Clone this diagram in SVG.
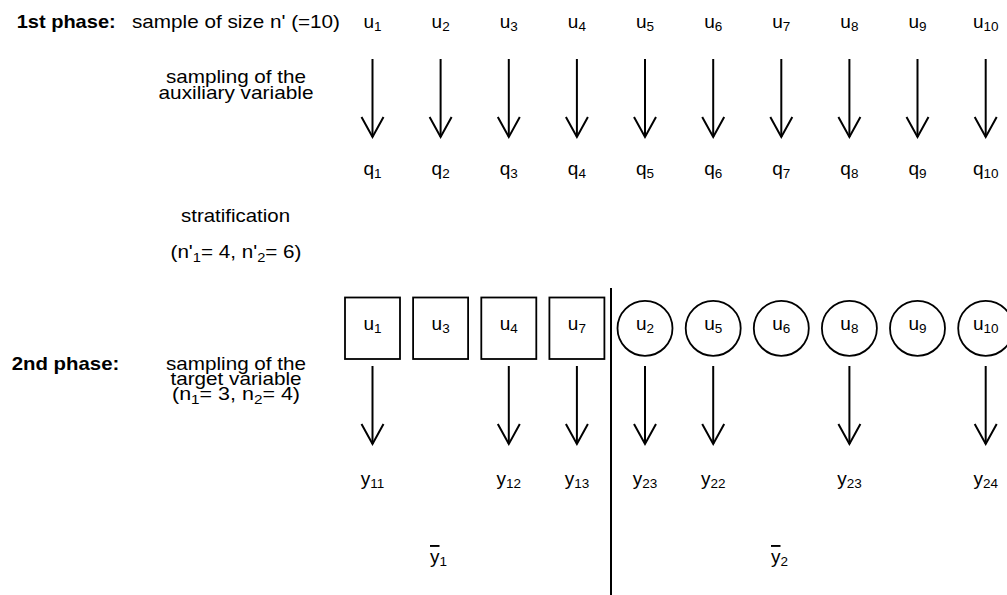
<svg xmlns="http://www.w3.org/2000/svg" width="1007" height="595" viewBox="0 0 1007 595">
<defs>
<style>
text{font-family:"Liberation Sans",Arial,sans-serif;font-size:19px;fill:#000}
.b{font-weight:bold}
.m{text-anchor:middle}
.s{font-size:13.5px}
.ln{stroke:#000;stroke-width:2;fill:none}
.nd{stroke:#000;stroke-width:1.8;fill:#fff}
.ov{text-decoration:overline}
</style>
<marker id="ah" markerUnits="userSpaceOnUse" markerWidth="30" markerHeight="30" viewBox="-25 -15 30 30" refX="0" refY="0" orient="auto" overflow="visible">
<path d="M-20,-11 L0,0 L-20,11" fill="none" stroke="#000" stroke-width="2"/>
</marker>
</defs>
<rect width="1007" height="595" fill="#fff"/>

<g id="labels">
<text class="b" x="16.7" y="27.5" textLength="99" lengthAdjust="spacingAndGlyphs">1st phase:</text>
<text x="132" y="27.5" textLength="208" lengthAdjust="spacingAndGlyphs">sample of size n' (=10)</text>
<text class="m" x="236" y="83" textLength="140" lengthAdjust="spacingAndGlyphs">sampling of the</text>
<text class="m" x="236" y="98.5" textLength="155" lengthAdjust="spacingAndGlyphs">auxiliary variable</text>
<text class="m" x="235.5" y="222" textLength="109" lengthAdjust="spacingAndGlyphs">stratification</text>
<text class="m" x="236" y="258" textLength="131" lengthAdjust="spacingAndGlyphs">(n'<tspan class="s" dy="4">1</tspan><tspan dy="-4">= 4, n'</tspan><tspan class="s" dy="4">2</tspan><tspan dy="-4">= 6)</tspan></text>
<text class="b" x="11.7" y="370" textLength="107.6" lengthAdjust="spacingAndGlyphs">2nd phase:</text>
<text class="m" x="236" y="369.5" textLength="140" lengthAdjust="spacingAndGlyphs">sampling of the</text>
<text class="m" x="236" y="385" textLength="131" lengthAdjust="spacingAndGlyphs">target variable</text>
<text class="m" x="236" y="399.5" textLength="128" lengthAdjust="spacingAndGlyphs">(n<tspan class="s" dy="4">1</tspan><tspan dy="-4">= 3, n</tspan><tspan class="s" dy="4">2</tspan><tspan dy="-4">= 4)</tspan></text>
</g>

<g id="phase1-units">
<text class="m" x="372.5" y="27.5">u<tspan class="s" dy="3">1</tspan></text>
<text class="m" x="440.6" y="27.5">u<tspan class="s" dy="3">2</tspan></text>
<text class="m" x="508.8" y="27.5">u<tspan class="s" dy="3">3</tspan></text>
<text class="m" x="576.9" y="27.5">u<tspan class="s" dy="3">4</tspan></text>
<text class="m" x="645" y="27.5">u<tspan class="s" dy="3">5</tspan></text>
<text class="m" x="713.2" y="27.5">u<tspan class="s" dy="3">6</tspan></text>
<text class="m" x="781.3" y="27.5">u<tspan class="s" dy="3">7</tspan></text>
<text class="m" x="849.4" y="27.5">u<tspan class="s" dy="3">8</tspan></text>
<text class="m" x="917.5" y="27.5">u<tspan class="s" dy="3">9</tspan></text>
<text class="m" x="985.7" y="27.5">u<tspan class="s" dy="3">10</tspan></text>
</g>

<g id="phase1-q">
<text class="m" x="372.5" y="174.5">q<tspan class="s" dy="3">1</tspan></text>
<text class="m" x="440.6" y="174.5">q<tspan class="s" dy="3">2</tspan></text>
<text class="m" x="508.8" y="174.5">q<tspan class="s" dy="3">3</tspan></text>
<text class="m" x="576.9" y="174.5">q<tspan class="s" dy="3">4</tspan></text>
<text class="m" x="645" y="174.5">q<tspan class="s" dy="3">5</tspan></text>
<text class="m" x="713.2" y="174.5">q<tspan class="s" dy="3">6</tspan></text>
<text class="m" x="781.3" y="174.5">q<tspan class="s" dy="3">7</tspan></text>
<text class="m" x="849.4" y="174.5">q<tspan class="s" dy="3">8</tspan></text>
<text class="m" x="917.5" y="174.5">q<tspan class="s" dy="3">9</tspan></text>
<text class="m" x="985.7" y="174.5">q<tspan class="s" dy="3">10</tspan></text>
</g>

<g id="stratum1">
<g id="n-u1"><rect class="nd" x="345" y="297.5" width="55" height="61.5"/><text class="m" x="372.5" y="330">u<tspan class="s" dy="3">1</tspan></text></g>
<g id="n-u3"><rect class="nd" x="413.1" y="297.5" width="55" height="61.5"/><text class="m" x="440.6" y="330">u<tspan class="s" dy="3">3</tspan></text></g>
<g id="n-u4"><rect class="nd" x="481.3" y="297.5" width="55" height="61.5"/><text class="m" x="508.8" y="330">u<tspan class="s" dy="3">4</tspan></text></g>
<g id="n-u7"><rect class="nd" x="549.4" y="297.5" width="55" height="61.5"/><text class="m" x="576.9" y="330">u<tspan class="s" dy="3">7</tspan></text></g>
</g>

<g id="stratum2">
<g id="n-u2"><circle class="nd" cx="645" cy="328.3" r="27.5"/><text class="m" x="645" y="330">u<tspan class="s" dy="3">2</tspan></text></g>
<g id="n-u5"><circle class="nd" cx="713.2" cy="328.3" r="27.5"/><text class="m" x="713.2" y="330">u<tspan class="s" dy="3">5</tspan></text></g>
<g id="n-u6"><circle class="nd" cx="781.3" cy="328.3" r="27.5"/><text class="m" x="781.3" y="330">u<tspan class="s" dy="3">6</tspan></text></g>
<g id="n-u8"><circle class="nd" cx="849.4" cy="328.3" r="27.5"/><text class="m" x="849.4" y="330">u<tspan class="s" dy="3">8</tspan></text></g>
<g id="n-u9"><circle class="nd" cx="917.5" cy="328.3" r="27.5"/><text class="m" x="917.5" y="330">u<tspan class="s" dy="3">9</tspan></text></g>
<g id="n-u10"><circle class="nd" cx="985.7" cy="328.3" r="27.5"/><text class="m" x="985.7" y="330">u<tspan class="s" dy="3">10</tspan></text></g>
</g>

<g id="y-values">
<text class="m" x="372.5" y="485">y<tspan class="s" dy="3">11</tspan></text>
<text class="m" x="508.8" y="485">y<tspan class="s" dy="3">12</tspan></text>
<text class="m" x="576.9" y="485">y<tspan class="s" dy="3">13</tspan></text>
<text class="m" x="645" y="485">y<tspan class="s" dy="3">23</tspan></text>
<text class="m" x="713.2" y="485">y<tspan class="s" dy="3">22</tspan></text>
<text class="m" x="849.4" y="485">y<tspan class="s" dy="3">23</tspan></text>
<text class="m" x="985.7" y="485">y<tspan class="s" dy="3">24</tspan></text>
</g>

<g id="means">
<text x="430" y="563"><tspan class="ov">y</tspan><tspan class="s" dy="3">1</tspan></text>
<text x="771" y="563"><tspan class="ov">y</tspan><tspan class="s" dy="3">2</tspan></text>
</g>

<g id="connectors">
<line class="ln" x1="372.5" y1="59" x2="372.5" y2="137" marker-end="url(#ah)"/>
<line class="ln" x1="440.6" y1="59" x2="440.6" y2="137" marker-end="url(#ah)"/>
<line class="ln" x1="508.8" y1="59" x2="508.8" y2="137" marker-end="url(#ah)"/>
<line class="ln" x1="576.9" y1="59" x2="576.9" y2="137" marker-end="url(#ah)"/>
<line class="ln" x1="645" y1="59" x2="645" y2="137" marker-end="url(#ah)"/>
<line class="ln" x1="713.2" y1="59" x2="713.2" y2="137" marker-end="url(#ah)"/>
<line class="ln" x1="781.3" y1="59" x2="781.3" y2="137" marker-end="url(#ah)"/>
<line class="ln" x1="849.4" y1="59" x2="849.4" y2="137" marker-end="url(#ah)"/>
<line class="ln" x1="917.5" y1="59" x2="917.5" y2="137" marker-end="url(#ah)"/>
<line class="ln" x1="985.7" y1="59" x2="985.7" y2="137" marker-end="url(#ah)"/>
<line class="ln" x1="372.5" y1="366" x2="372.5" y2="444" marker-end="url(#ah)"/>
<line class="ln" x1="508.8" y1="366" x2="508.8" y2="444" marker-end="url(#ah)"/>
<line class="ln" x1="576.9" y1="366" x2="576.9" y2="444" marker-end="url(#ah)"/>
<line class="ln" x1="645" y1="366" x2="645" y2="444" marker-end="url(#ah)"/>
<line class="ln" x1="713.2" y1="366" x2="713.2" y2="444" marker-end="url(#ah)"/>
<line class="ln" x1="849.4" y1="366" x2="849.4" y2="444" marker-end="url(#ah)"/>
<line class="ln" x1="985.7" y1="366" x2="985.7" y2="444" marker-end="url(#ah)"/>
<line class="ln" x1="611" y1="288" x2="611" y2="595"/>
</g>
</svg>
